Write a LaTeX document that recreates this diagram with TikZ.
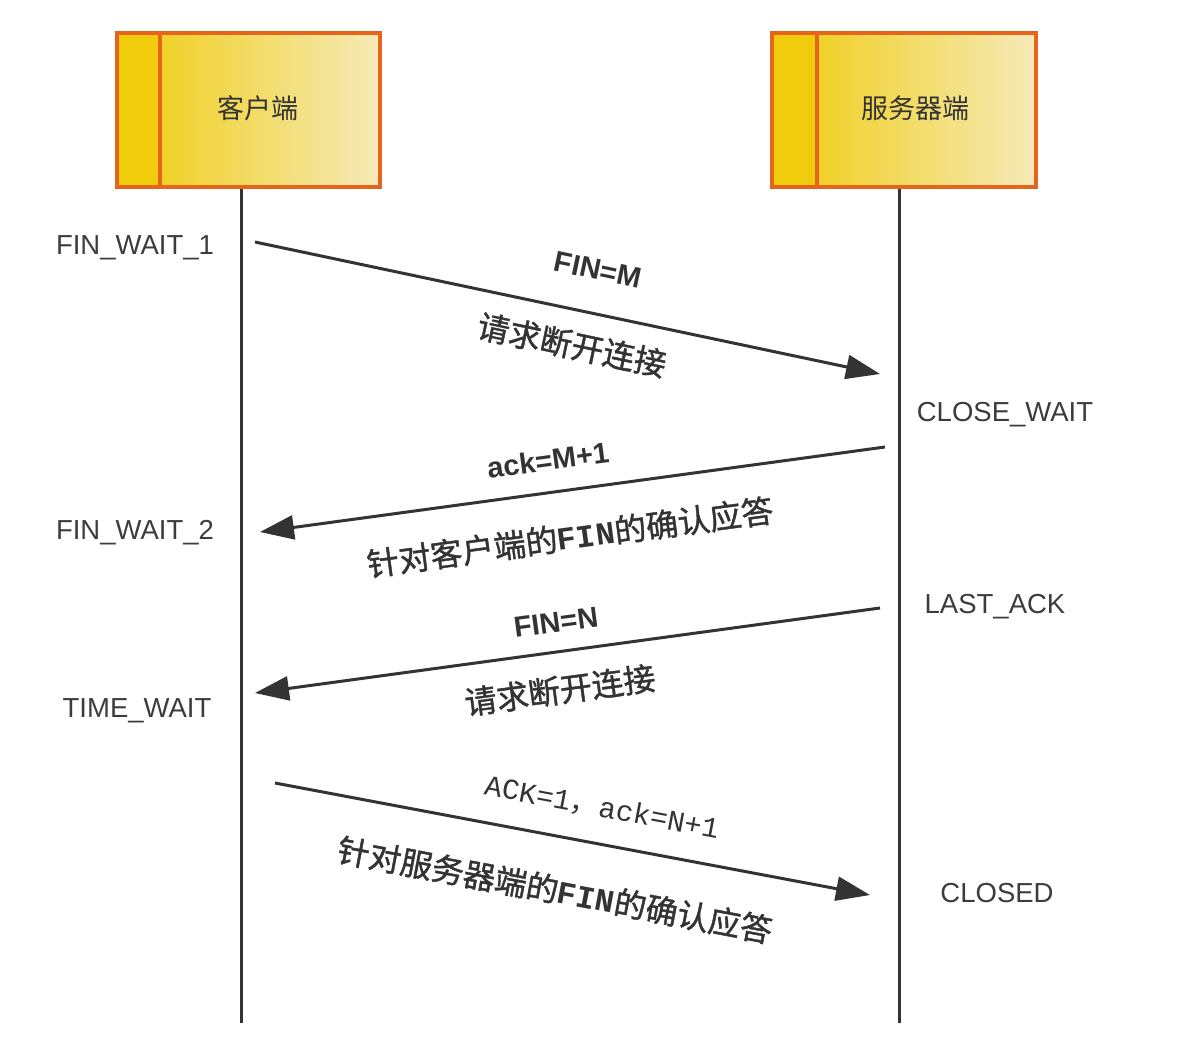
\documentclass[tikz,border=0pt]{standalone}
\usepackage{fontspec}
\setmainfont{Liberation Sans}
\newfontfamily\cjk{Noto Sans CJK SC}
\newfontfamily\cjkheavy[FakeBold=1.3]{Noto Sans CJK SC}
\newfontfamily\mono{Liberation Mono}
\usetikzlibrary{arrows.meta}

\definecolor{boxedge}{HTML}{E6641C}
\definecolor{boxgold}{HTML}{F0CC0C}
\definecolor{boxpale}{HTML}{F5EAB8}
\definecolor{inkgray}{HTML}{333333}
\definecolor{stategray}{HTML}{3C3C3C}

\tikzset{
    hostbox/.style={draw=boxedge, line width=4pt, left color=boxgold, right color=boxpale,
        minimum width=263pt, minimum height=154pt, inner sep=0pt},
    hostname/.style={text=inkgray, font=\cjk\fontsize{27}{32}\selectfont},
    life/.style={draw=inkgray, line width=3pt},
    msg/.style={draw=inkgray, line width=3pt, -{Triangle[length=34pt, width=24pt]}},
    state/.style={text=stategray, inner sep=1pt, font=\fontsize{27.5}{33}\selectfont},
    flag/.style={text=inkgray, inner sep=0pt, font=\bfseries\fontsize{29}{34}\selectfont},
    note/.style={text=inkgray, inner sep=0pt, font=\cjkheavy\fontsize{32}{38}\selectfont},
}

\begin{document}
\begin{tikzpicture}[x=1pt, y=-1pt]
    \useasboundingbox (0, 0) rectangle (1195, 1055);

    % hosts
    \node [hostbox] (client) at (248.5, 110) {};
    \fill [boxgold] (117, 33) rectangle (160, 187);
    \draw [boxedge, line width=4pt] (160, 33) -- (160, 187);
    \draw [boxedge, line width=4pt] (117, 33) rectangle (380, 187);
    \node [hostname] (clientname) at (258, 108) {客户端};

    \node [hostbox] (server) at (904, 110) {};
    \fill [boxgold] (772, 33) rectangle (817, 187);
    \draw [boxedge, line width=4pt] (817, 33) -- (817, 187);
    \draw [boxedge, line width=4pt] (772, 33) rectangle (1036, 187);
    \node [hostname] (servername) at (915, 108) {服务器端};

    % lifelines
    \coordinate (clientend) at (241, 1023);
    \coordinate (serverend) at (899, 1023);
    \draw [life] (clientend |- client.south) -- (clientend);
    \draw [life] (serverend |- server.south) -- (serverend);

    % message ends
    \coordinate (c1) at (255, 242);
    \coordinate (s1) at (880, 374);
    \coordinate (s2) at (885, 447);
    \coordinate (c2) at (260, 532);
    \coordinate (s3) at (880, 608);
    \coordinate (c3) at (255, 693);
    \coordinate (c4) at (275, 783);
    \coordinate (s4) at (870, 895);

    \draw [msg] (c1) -- (s1);
    \draw [msg] (s2) -- (c2);
    \draw [msg] (s3) -- (c3);
    \draw [msg] (c4) -- (s4);

    % labels
    \node [flag, rotate=-12] (finm) at (598, 270) {FIN=M};
    \node [note, rotate=-12] (req1) at (572, 345) {请求断开连接};
    \node [flag, rotate=7.7] (ackm) at (548, 460) {ack=M+1};
    \node [note, rotate=7.7] (conf1) at (570, 537) {针对客户端的{\mono\bfseries FIN}的确认应答};
    \node [flag, rotate=7.7] (finn) at (556, 622) {FIN=N};
    \node [note, rotate=7.7] (req2) at (560, 690) {请求断开连接};
    \node [text=inkgray, inner sep=0pt, font=\mono\fontsize{29}{34}\selectfont, rotate=-10.7] (ackn) at (602, 808)
        {ACK=1{\cjk ，}ack=N+1};
    \node [note, rotate=-10.7] (conf2) at (555, 890) {针对服务器端的{\mono\bfseries FIN}的确认应答};

    % states
    \node [state] (fw1) at (135, 248) {FIN\_WAIT\_1};
    \node [state] (fw2) at (135, 533) {FIN\_WAIT\_2};
    \node [state] (tw) at (137, 711) {TIME\_WAIT};
    \node [state] (cw) at (1005, 415) {CLOSE\_WAIT};
    \node [state] (la) at (995, 607) {LAST\_ACK};
    \node [state] (cl) at (997, 893) {CLOSED};
\end{tikzpicture}
\end{document}
